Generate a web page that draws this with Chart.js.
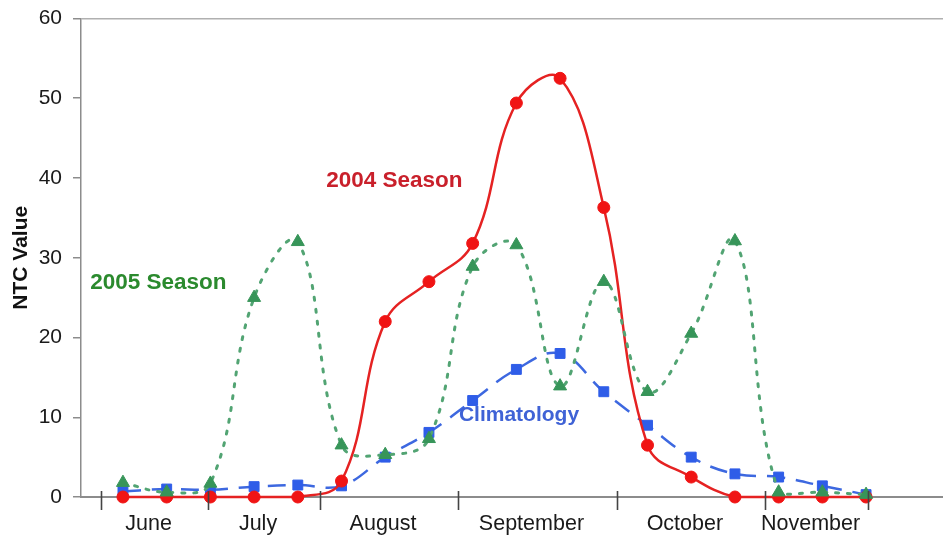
<!DOCTYPE html>
<html>
<head>
<meta charset="utf-8">
<script src="https://cdn.jsdelivr.net/npm/chart.js@4/dist/chart.umd.min.js"></script>
<style>
  html, body { margin: 0; padding: 0; background: #fff; }
  #wrap { width: 943px; height: 538px; }
</style>
</head>
<body>
<div id="wrap"><canvas id="ntcChart"></canvas></div>
<script>
// week index of each sample (roughly weekly, June -> November)
const weekIndex = [0, 1, 2, 3, 4, 5, 6, 7, 8, 9, 10, 11, 12, 13, 14, 15, 16, 17];

// NTC values
const season2004 = [0, 0, 0, 0, 0, 2.0, 22.0, 27.0, 31.8, 49.4, 52.5, 36.3, 6.5, 2.5, 0, 0, 0, 0];
const season2005 = [1.8, 0.6, 1.7, 25.0, 32.0, 6.5, 5.3, 7.3, 28.9, 31.6, 13.9, 27.0, 13.2, 20.5, 32.1, 0.6, 0.6, 0.3];
const climatology = [0.7, 1.0, 0.9, 1.3, 1.5, 1.4, 5.0, 8.1, 12.1, 16.0, 18.0, 13.2, 9.0, 5.0, 2.9, 2.5, 1.4, 0.3];

// month labels and the boundary marks between them (in week units)
const monthNames = ["June", "July", "August", "September", "October", "November"];
const monthEdges = [-0.5, 1.95, 4.51, 7.67, 11.3, 14.69, 17.05];

const yTicks = [0, 10, 20, 30, 40, 50, 60];

// in-chart series labels
const seriesLabels = [
  { text: "2004 Season", x: 6.21, y: 39.6, color: "#c9202b", size: 22.5 },
  { text: "2005 Season", x: 0.81, y: 26.8, color: "#2b8a2e", size: 22.5 },
  { text: "Climatology", x: 9.06, y: 10.2, color: "#3f62d6", size: 21 },
];

const toPoints = (vals) => vals.map((v, i) => ({ x: weekIndex[i], y: v }));

// month boundary tick marks across the zero line
const monthTicks = {
  id: "monthTicks",
  afterDraw(chart) {
    const ctx = chart.ctx;
    const xs = chart.scales.x;
    const y0 = chart.scales.y.getPixelForValue(0);
    ctx.save();
    ctx.strokeStyle = "#444";
    ctx.lineWidth = 1.6;
    monthEdges.forEach((e) => {
      const px = Math.round(xs.getPixelForValue(e)) + 0.5;
      ctx.beginPath();
      ctx.moveTo(px, y0 - 6);
      ctx.lineTo(px, y0 + 13);
      ctx.stroke();
    });
    ctx.restore();
  },
};

// text labels for each curve
const curveLabels = {
  id: "curveLabels",
  afterDatasetsDraw(chart) {
    const ctx = chart.ctx;
    const xs = chart.scales.x;
    const ys = chart.scales.y;
    ctx.save();
    ctx.textAlign = "center";
    ctx.textBaseline = "middle";
    seriesLabels.forEach((l) => {
      ctx.font = "bold " + l.size + "px 'Liberation Sans', Arial, sans-serif";
      ctx.fillStyle = l.color;
      ctx.fillText(l.text, xs.getPixelForValue(l.x), ys.getPixelForValue(l.y));
    });
    ctx.restore();
  },
};

const ctx = document.getElementById("ntcChart").getContext("2d");

new Chart(ctx, {
  type: "line",
  data: {
    datasets: [
      {
        label: "2005 Season",
        data: toPoints(season2005),
        borderColor: "#52a473",
        borderWidth: 3,
        borderDash: [3, 9],
        borderCapStyle: "round",
        tension: 0.4,
        pointStyle: "triangle",
        pointRadius: 7.5,
        pointBackgroundColor: "#379559",
        pointBorderColor: "#379559",
        pointBorderWidth: 1,
        clip: false,
      },
      {
        label: "2004 Season",
        data: toPoints(season2004),
        borderColor: "#e52222",
        borderWidth: 2.5,
        tension: 0.4,
        pointStyle: "circle",
        pointRadius: 6,
        pointBackgroundColor: "#f01414",
        pointBorderColor: "#f01414",
        pointBorderWidth: 1,
        clip: false,
      },
      {
        label: "Climatology",
        data: toPoints(climatology),
        borderColor: "#3d68e0",
        borderWidth: 2.5,
        borderDash: [18, 11],
        tension: 0.4,
        pointStyle: "rect",
        pointRadius: 7,
        pointBackgroundColor: "#2f5de8",
        pointBorderColor: "#2f5de8",
        pointBorderWidth: 1,
        clip: false,
      },
    ],
  },
  options: {
    responsive: true,
    maintainAspectRatio: false,
    animation: false,
    layout: { autoPadding: false, padding: { top: 18.5, right: 0, bottom: 0, left: 0 } },
    plugins: {
      legend: { display: false },
      tooltip: { enabled: false },
    },
    scales: {
      x: {
        type: "linear",
        min: -0.96,
        max: 18.76,
        afterBuildTicks: (scale) => {
          scale.ticks = monthNames.map((m, i) => ({
            value: (monthEdges[i] + monthEdges[i + 1]) / 2 - 0.14,
          }));
        },
        afterFit: (scale) => {
          scale.height = 41;
          scale.paddingLeft = 0;
          scale.paddingRight = 0;
        },
        grid: { display: false, drawTicks: false },
        border: { display: true, color: "#8c8c8c", width: 2 },
        ticks: {
          autoSkip: false,
          maxRotation: 0,
          padding: 14,
          color: "#1a1a1a",
          font: { family: "'Liberation Sans', Arial, sans-serif", size: 21.5 },
          callback: (v, i) => monthNames[i],
        },
      },
      y: {
        min: 0,
        max: 60,
        afterBuildTicks: (scale) => {
          scale.ticks = yTicks.map((v) => ({ value: v }));
        },
        afterFit: (scale) => {
          scale.width = 81;
          scale.paddingTop = 0;
          scale.paddingBottom = 0;
        },
        grid: {
          drawTicks: true,
          tickLength: 8,
          tickColor: "#8c8c8c",
          lineWidth: 1.5,
          color: (c) => (c.tick && c.tick.value === 60 ? "#b0b0b0" : "rgba(0,0,0,0)"),
        },
        border: { display: true, color: "#8c8c8c", width: 1.5 },
        ticks: {
          padding: 11,
          color: "#1a1a1a",
          font: { family: "'Liberation Sans', Arial, sans-serif", size: 21 },
        },
        title: {
          display: true,
          text: "NTC Value",
          color: "#111",
          padding: { top: 9, bottom: 0 },
          font: { family: "'Liberation Sans', Arial, sans-serif", size: 21, weight: "bold" },
        },
      },
    },
  },
  plugins: [monthTicks, curveLabels],
});
</script>
</body>
</html>
